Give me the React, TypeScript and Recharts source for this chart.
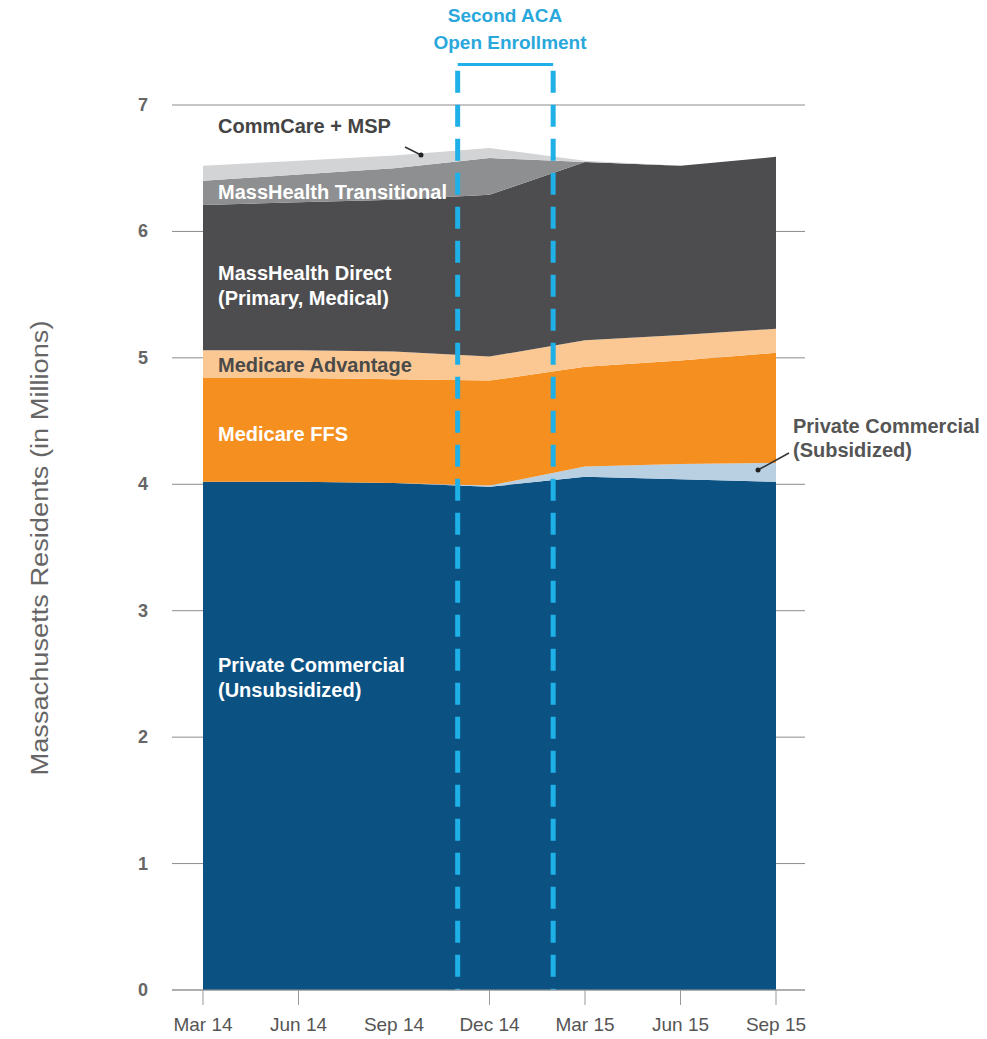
import React from "react";
import { AreaChart, Area, XAxis, YAxis, CartesianGrid, ReferenceLine } from "recharts";

// quarterly snapshots, millions of residents
const monthLabels = ["Mar 14", "Jun 14", "Sep 14", "Dec 14", "Mar 15", "Jun 15", "Sep 15"];
const monthIndex = [0, 3, 6, 9, 12, 15, 18];
const yTicks = [0, 1, 2, 3, 4, 5, 6, 7];

const privateUnsubsidized = [4.02, 4.02, 4.01, 3.98, 4.06, 4.04, 4.02];
const privateSubsidized = [0, 0, 0, 0.01, 0.08, 0.12, 0.15];
const medicareFFS = [0.82, 0.82, 0.82, 0.83, 0.79, 0.82, 0.87];
const medicareAdvantage = [0.22, 0.22, 0.22, 0.19, 0.21, 0.2, 0.19];
const massHealthDirect = [1.15, 1.17, 1.2, 1.28, 1.41, 1.34, 1.36];
const massHealthTransitional = [0.19, 0.22, 0.25, 0.29, 0, 0, 0];
const commCareMSP = [0.12, 0.11, 0.1, 0.08, 0.01, 0, 0];

// open enrollment window (month index from Mar 14)
const enrollStart = 8;
const enrollEnd = 11;

const W = 987;
const H = 1039;
const FONT = "'Liberation Sans', Arial, Helvetica, sans-serif";
const CYAN = "#1eb0e6";

const data = monthIndex.map((m, i) => ({
  m,
  unsub: privateUnsubsidized[i],
  sub: privateSubsidized[i],
  ffs: medicareFFS[i],
  adv: medicareAdvantage[i],
  direct: massHealthDirect[i],
  trans: massHealthTransitional[i],
  comm: commCareMSP[i],
}));

const series = [
  { key: "unsub", color: "#0b5283" },
  { key: "sub", color: "#b9d0e3" },
  { key: "ffs", color: "#f58f1f" },
  { key: "adv", color: "#fbc894" },
  { key: "direct", color: "#4d4d4f" },
  { key: "trans", color: "#8e8f91" },
  { key: "comm", color: "#d3d4d6" },
];

function XTick(props: any) {
  const { x, payload } = props;
  const label = monthLabels[monthIndex.indexOf(payload.value)];
  return (
    <g>
      {label !== "Sep 14" && <line x1={x} x2={x} y1={990} y2={1005} stroke="#999" />}
      <text x={x} y={1031} textAnchor="middle" fontSize={19} fill="#555" fontFamily={FONT}>
        {label}
      </text>
    </g>
  );
}

function YTick(props: any) {
  const { y, payload } = props;
  return (
    <text x={143} y={y + 6} textAnchor="middle" fontSize={18} fontWeight="bold" fill="#666" fontFamily={FONT}>
      {payload.value}
    </text>
  );
}

const lbl = { fontFamily: FONT, fontSize: 20, fontWeight: "bold" as const };

export default function App() {
  return (
    <div style={{ position: "absolute", left: 0, top: 0, width: W, height: H, background: "#fff" }}>
      <AreaChart width={W} height={H} data={data} margin={{ top: 105, right: 182, bottom: 0, left: 0 }}>
        <CartesianGrid vertical={false} stroke="#8c8c8c" />
        <XAxis
          type="number"
          dataKey="m"
          domain={[0, 18]}
          ticks={monthIndex}
          padding={{ left: 31, right: 29 }}
          height={49}
          axisLine={{ stroke: "#999" }}
          tickLine={false}
          tick={<XTick />}
        />
        <YAxis type="number" domain={[0, 7]} ticks={yTicks} width={172} axisLine={false} tickLine={false} tick={<YTick />} />
        {series.map((s) => (
          <Area
            key={s.key}
            type="linear"
            dataKey={s.key}
            stackId="1"
            stroke="none"
            fill={s.color}
            fillOpacity={1}
            dot={false}
            activeDot={false}
            isAnimationActive={false}
          />
        ))}
        <ReferenceLine
          segment={[{ x: enrollStart, y: 7.27 }, { x: enrollStart, y: 0 }]}
          stroke={CYAN}
          strokeWidth={5}
          strokeDasharray="22 12"
          ifOverflow="visible"
        />
        <ReferenceLine
          segment={[{ x: enrollEnd, y: 7.27 }, { x: enrollEnd, y: 0 }]}
          stroke={CYAN}
          strokeWidth={5}
          strokeDasharray="22 12"
          ifOverflow="visible"
        />
        <ReferenceLine
          segment={[{ x: enrollStart, y: 7.32 }, { x: enrollEnd, y: 7.32 }]}
          stroke={CYAN}
          strokeWidth={3}
          ifOverflow="visible"
        />
      </AreaChart>
      <svg width={W} height={H} style={{ position: "absolute", left: 0, top: 0, pointerEvents: "none" }}>
        <text x={505} y={22} textAnchor="middle" fill="#2aa8dc" fontFamily={FONT} fontSize={19} fontWeight={600}>
          Second ACA
        </text>
        <text x={510} y={49} textAnchor="middle" fill="#2aa8dc" fontFamily={FONT} fontSize={19} fontWeight={600}>
          Open Enrollment
        </text>

        <text
          x={48}
          y={548}
          textAnchor="middle"
          fill="#666"
          fontFamily={FONT}
          fontSize={23}
          textLength={455}
          lengthAdjust="spacingAndGlyphs"
          transform="rotate(-90 48 548)"
        >
          Massachusetts Residents (in Millions)
        </text>

        <text x={218} y={133} fill="#444" {...lbl}>CommCare + MSP</text>
        <line x1={405} y1={147} x2={421} y2={155} stroke="#333" strokeWidth={1.5} />
        <circle cx={421} cy={155} r={2.5} fill="#222" />

        <text x={218} y={199} fill="#fff" {...lbl}>MassHealth Transitional</text>
        <text x={218} y={280} fill="#fff" {...lbl}>MassHealth Direct</text>
        <text x={218} y={305} fill="#fff" {...lbl}>(Primary, Medical)</text>
        <text x={218} y={372} fill="#4a4a4a" {...lbl}>Medicare Advantage</text>
        <text x={218} y={441} fill="#fff" {...lbl}>Medicare FFS</text>
        <text x={218} y={672} fill="#fff" {...lbl}>Private Commercial</text>
        <text x={218} y={697} fill="#fff" {...lbl}>(Unsubsidized)</text>

        <text x={793} y={433} fill="#555" {...lbl}>Private Commercial</text>
        <text x={793} y={457} fill="#555" {...lbl}>(Subsidized)</text>
        <line x1={758} y1={470} x2={789} y2={453} stroke="#333" strokeWidth={1.5} />
        <circle cx={758} cy={470} r={2.5} fill="#222" />
      </svg>
    </div>
  );
}
